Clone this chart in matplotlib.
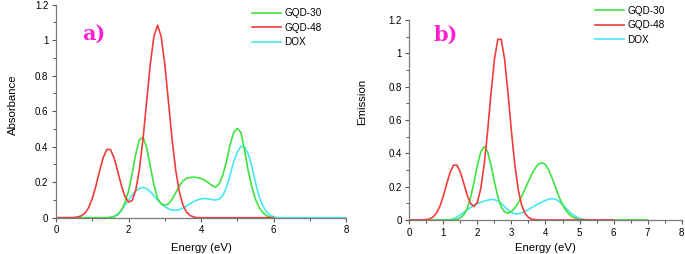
import numpy as np
import matplotlib
matplotlib.use("Agg")
import matplotlib.pyplot as plt
from matplotlib.ticker import MultipleLocator, FuncFormatter

plt.rcParams['font.family'] = ['Liberation Sans', 'DejaVu Sans']

labels = ['GQD-30', 'GQD-48', 'DOX']
colors = ['#3ee23e', '#f23b3b', '#45e8f2']

# a) absorbance, values every 0.1 eV starting at the given energy
gqd30_a_start = 1.4
gqd30_a = [0.0, 0.001, 0.005, 0.016, 0.040, 0.085, 0.150, 0.250, 0.360, 0.440,
           0.452, 0.395, 0.290, 0.185, 0.108, 0.078, 0.070, 0.078, 0.103, 0.140,
           0.178, 0.207, 0.222, 0.227, 0.228, 0.226, 0.221, 0.211, 0.197, 0.182,
           0.172, 0.190, 0.240, 0.315, 0.410, 0.480, 0.503, 0.480, 0.380, 0.265,
           0.175, 0.105, 0.058, 0.030, 0.012, 0.004, 0.0]
gqd48_a_start = 0.4
gqd48_a = [0.0, 0.001, 0.004, 0.011, 0.026, 0.057, 0.107, 0.179, 0.262, 0.338,
           0.384, 0.384, 0.338, 0.263, 0.183, 0.119, 0.088, 0.097, 0.157, 0.273,
           0.445, 0.655, 0.865, 1.021, 1.085, 1.021, 0.865, 0.655, 0.444, 0.269,
           0.146, 0.071, 0.031, 0.012, 0.004, 0.0]
dox_a_start = 1.4
dox_a = [0.0, 0.002, 0.008, 0.020, 0.042, 0.072, 0.100, 0.127, 0.150, 0.165,
         0.170, 0.164, 0.147, 0.124, 0.100, 0.079, 0.062, 0.050, 0.043, 0.042,
         0.045, 0.054, 0.066, 0.079, 0.091, 0.100, 0.106, 0.108, 0.106, 0.102,
         0.100, 0.105, 0.125, 0.170, 0.240, 0.315, 0.370, 0.402, 0.398, 0.360,
         0.290, 0.200, 0.120, 0.068, 0.035, 0.015, 0.005, 0.001, 0.0]

# b) emission
gqd30_b_start = 1.2
gqd30_b = [0.0, 0.001, 0.004, 0.012, 0.031, 0.069, 0.135, 0.226, 0.327, 0.409,
           0.440, 0.410, 0.328, 0.229, 0.140, 0.079, 0.048, 0.041, 0.051, 0.072,
           0.103, 0.141, 0.186, 0.232, 0.276, 0.312, 0.336, 0.344, 0.332, 0.297,
           0.248, 0.192, 0.138, 0.092, 0.057, 0.033, 0.018, 0.009, 0.004, 0.002,
           0.001, 0.0]
gqd48_b_start = 0.3
gqd48_b = [0.0, 0.001, 0.002, 0.007, 0.018, 0.042, 0.083, 0.144, 0.218, 0.287,
           0.329, 0.329, 0.287, 0.220, 0.149, 0.098, 0.081, 0.107, 0.189, 0.332,
           0.532, 0.759, 0.963, 1.084, 1.084, 0.963, 0.759, 0.531, 0.330, 0.182,
           0.089, 0.039, 0.015, 0.005, 0.002, 0.0]
dox_b_start = 1.1
dox_b = [0.0, 0.002, 0.008, 0.018, 0.030, 0.045, 0.060, 0.075, 0.088, 0.098,
         0.106, 0.113, 0.119, 0.123, 0.122, 0.115, 0.100, 0.080, 0.060, 0.045,
         0.037, 0.037, 0.043, 0.052, 0.063, 0.075, 0.087, 0.098, 0.108, 0.117,
         0.125, 0.128, 0.124, 0.112, 0.093, 0.071, 0.050, 0.032, 0.019, 0.010,
         0.005, 0.002, 0.001, 0.0]

# energy range each trace is drawn over (zero outside the listed values)
ranges_a = [(0, 6), (0, 6), (0, 8)]
ranges_b = [(0, 7), (0, 6), (1.0, 5.5)]


def trace(start, vals, lo, hi):
    x = start + 0.1 * np.arange(len(vals))
    x = np.concatenate([[lo], x, [hi]])
    y = np.concatenate([[0.0], vals, [0.0]])
    return x, y


fig = plt.figure(figsize=(6.85, 2.54), dpi=100)
ax1 = fig.add_axes([0.0818, 0.1429, 0.4234, 0.8386])
ax2 = fig.add_axes([0.5975, 0.1339, 0.3977, 0.7874])

panels = [
    (ax1, [(gqd30_a_start, gqd30_a), (gqd48_a_start, gqd48_a), (dox_a_start, dox_a)], ranges_a,
     'Absorbance', 'a)', 2, (-0.13, 0.53), (0.503, -0.12), (0.365, 0.975), 0.836),
    (ax2, [(gqd30_b_start, gqd30_b), (gqd48_b_start, gqd48_b), (dox_b_start, dox_b)], ranges_b,
     'Emission', 'b)', 1, (-0.153, 0.59), (0.498, -0.117), (0.866, 0.985), 0.895),
]

for ax, series, rng, ylab, tag, xstep, ylc, xlc, legpos, tagy in panels:
    lines = {}
    for i in [2, 0, 1]:
        x, y = trace(series[i][0], series[i][1], rng[i][0], rng[i][1])
        lines[i], = ax.plot(x, y, color=colors[i], lw=1.2, label=labels[i])
    ax.set_xlim(0, 8)
    ax.set_ylim(0, 1.2)
    ax.xaxis.set_major_locator(MultipleLocator(xstep))
    ax.xaxis.set_minor_locator(MultipleLocator(xstep / 2))
    ax.yaxis.set_major_locator(MultipleLocator(0.2))
    ax.yaxis.set_minor_locator(MultipleLocator(0.1))
    ax.yaxis.set_major_formatter(FuncFormatter(lambda v, p: '%g' % round(v, 1)))
    ax.xaxis.set_major_formatter(FuncFormatter(lambda v, p: '%g' % v))
    for s in ['top', 'right']:
        ax.spines[s].set_visible(False)
    for s in ['left', 'bottom']:
        ax.spines[s].set_color('#7a7a7a')
        ax.spines[s].set_linewidth(0.9)
    ax.tick_params(which='major', direction='out', length=3, width=0.8, color='#555555',
                   labelsize=7, pad=2.5)
    ax.tick_params(which='minor', direction='out', length=2, width=0.7, color='#555555')
    ax.set_ylabel(ylab, fontsize=8.2)
    ax.set_xlabel('Energy (eV)', fontsize=8.2)
    ax.yaxis.set_label_coords(*ylc)
    ax.xaxis.set_label_coords(*xlc)
    ax.patch.set_alpha(0)
    ax.text(0.09, tagy, tag, transform=ax.transAxes, color='#ff1ed2', fontsize=15,
            fontweight='bold', family='DejaVu Serif')
    fig.legend([lines[0], lines[1], lines[2]], labels, loc='upper left',
               bbox_to_anchor=(legpos[0], legpos[1]), bbox_transform=fig.transFigure,
               frameon=False, fontsize=7.2, handlelength=2.9, handletextpad=0.3,
               labelspacing=0.45, borderpad=0.2, borderaxespad=0)

fig.savefig('out.png', dpi=100)
plt.close()
